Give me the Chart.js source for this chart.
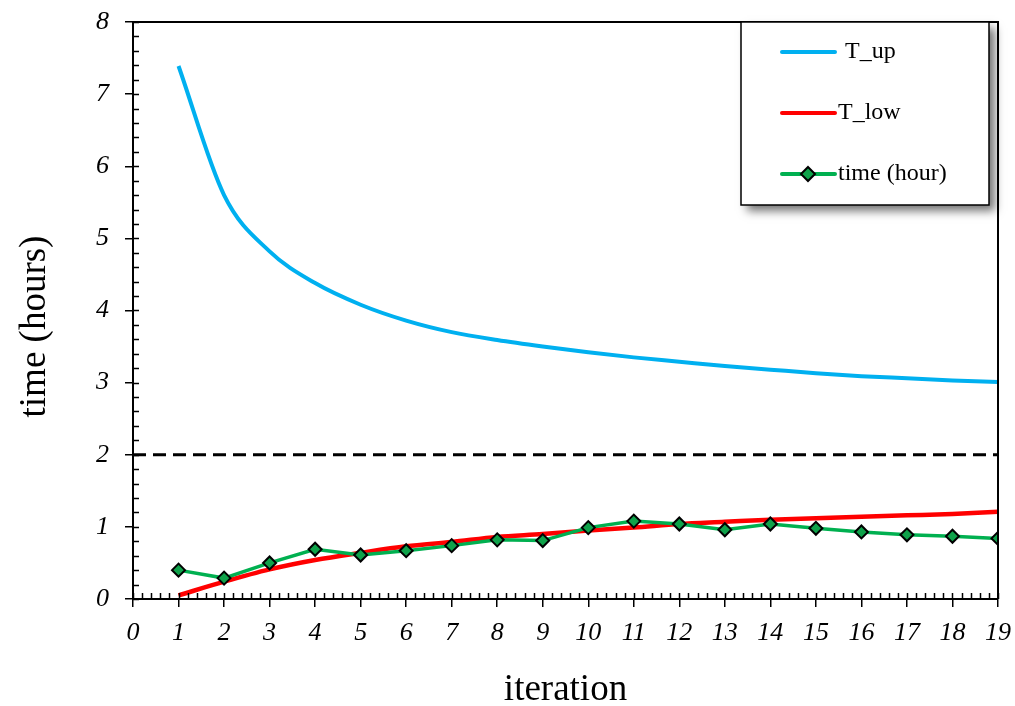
<!DOCTYPE html>
<html><head><meta charset="utf-8">
<script src="https://cdn.jsdelivr.net/npm/chart.js@4.4.1/dist/chart.umd.min.js"></script>
<style>html,body{margin:0;padding:0;background:#fff}#wrap{width:1015px;height:706px;position:relative}</style>
</head><body><div id="wrap"><canvas id="c" width="1015" height="706"></canvas></div>
<script>
const iterations = [1,2,3,4,5,6,7,8,9,10,11,12,13,14,15,16,17,18,19];
const tUp = [7.39,5.60,4.82,4.38,4.08,3.86,3.70,3.59,3.50,3.42,3.35,3.29,3.23,3.18,3.13,3.09,3.06,3.03,3.01];
const tLow = [0.05,0.24,0.41,0.54,0.64,0.73,0.79,0.86,0.90,0.95,0.99,1.04,1.07,1.10,1.12,1.14,1.16,1.18,1.21];
const timeHour = [0.40,0.29,0.50,0.69,0.61,0.67,0.74,0.82,0.81,0.99,1.08,1.04,0.96,1.04,0.98,0.93,0.89,0.87,0.84];
const limitX = [0,19];
const limitY = [2,2];
const xTickLabels = ['0','1','2','3','4','5','6','7','8','9','10','11','12','13','14','15','16','17','18','19'];
const yTickLabels = ['0','1','2','3','4','5','6','7','8'];

const SERIF = '"Liberation Serif","Times New Roman",serif';
const pts = (xs, ys) => xs.map((x,i)=>({x:x, y:ys[i]}));

const frame = {
  id:'frame',
  beforeDraw(chart){
    const ys = chart.scales.y;
    if (!ys._shifted){
      const orig = ys.drawTitle;
      ys.drawTitle = function(){ const c=this.ctx; c.save(); c.translate(0,16); orig.call(this); c.restore(); };
      ys._shifted = true;
    }
  },
  afterDraw(chart){
    const ctx = chart.ctx, a = chart.chartArea, xs = chart.scales.x, ys = chart.scales.y;
    ctx.save();
    ctx.strokeStyle = '#000'; ctx.lineWidth = 1.5;
    ctx.beginPath();
    for (let v = 0; v <= 19.0001; v += 0.2){
      const px = Math.round(xs.getPixelForValue(v)) + 0.5;
      ctx.moveTo(px, a.bottom); ctx.lineTo(px, a.bottom - 6);
    }
    for (let v = 0; v <= 8.0001; v += 0.2){
      const py = Math.round(ys.getPixelForValue(v)) + 0.5;
      ctx.moveTo(a.left, py); ctx.lineTo(a.left + 6, py);
    }
    ctx.stroke();
    ctx.lineWidth = 2;
    ctx.beginPath();
    ctx.moveTo(a.left, a.top); ctx.lineTo(a.right, a.top); ctx.lineTo(a.right, a.bottom);
    ctx.stroke();
    const bx = 741, by = 22, bw = 248, bh = 183;
    ctx.shadowColor = 'rgba(0,0,0,0.55)'; ctx.shadowBlur = 9; ctx.shadowOffsetX = 6; ctx.shadowOffsetY = 6;
    ctx.fillStyle = '#fff'; ctx.fillRect(bx, by, bw, bh);
    ctx.shadowColor = 'rgba(0,0,0,0)'; ctx.shadowBlur = 0; ctx.shadowOffsetX = 0; ctx.shadowOffsetY = 0;
    ctx.lineWidth = 1.5; ctx.strokeStyle = '#000'; ctx.strokeRect(bx, by, bw, bh);
    const rows = [52, 113, 174];
    const textX = [845, 838, 838];
    const items = chart.data.datasets.filter(ds => ds.legendRank !== undefined).sort((p,q)=>p.legendRank-q.legendRank);
    items.forEach((ds, r) => {
      const y = rows[r];
      ctx.strokeStyle = ds.borderColor; ctx.lineWidth = 4; ctx.lineCap = 'round';
      ctx.beginPath(); ctx.moveTo(782, y); ctx.lineTo(835, y); ctx.stroke();
      if (ds.pointRadius > 0){
        const s = 7;
        ctx.beginPath(); ctx.moveTo(808, y - s); ctx.lineTo(808 + s, y); ctx.lineTo(808, y + s); ctx.lineTo(808 - s, y); ctx.closePath();
        ctx.fillStyle = ds.pointBackgroundColor; ctx.fill();
        ctx.lineWidth = 2; ctx.strokeStyle = '#000'; ctx.stroke();
      }
      ctx.fillStyle = '#000'; ctx.font = '24px ' + SERIF; ctx.textBaseline = 'middle'; ctx.textAlign = 'left';
      ctx.fillText(ds.label, textX[r], y);
    });
    ctx.restore();
  }
};

new Chart(document.getElementById('c'), {
  type: 'line',
  data: {
    datasets: [
      { label:'time (hour)', legendRank:2, data: pts(iterations, timeHour), borderColor:'#00B050', borderWidth:3.5,
        pointStyle:'rectRot', pointRadius:6.5, pointBackgroundColor:'#0FA24A', pointBorderColor:'#000', pointBorderWidth:2,
        tension:0, order:0 },
      { label:'T_low', legendRank:1, data: pts(iterations, tLow), borderColor:'#FF0000', borderWidth:4.5,
        pointRadius:0, cubicInterpolationMode:'monotone', order:1 },
      { label:'T_up', legendRank:0, data: pts(iterations, tUp), borderColor:'#00B0F0', borderWidth:4,
        pointRadius:0, cubicInterpolationMode:'monotone', order:2 },
      { label:'limit', data: pts(limitX, limitY), borderColor:'#000', borderWidth:3,
        borderDash:[13,7], pointRadius:0, order:3 }
    ]
  },
  options: {
    responsive:false, animation:false, devicePixelRatio:1,
    layout:{ padding:{ left:0, right:17, top:22, bottom:0 } },
    plugins:{ legend:{display:false}, tooltip:{enabled:false} },
    scales:{
      x:{ type:'linear', min:0, max:19,
        afterFit(s){ s.height = 107; s.paddingLeft = 0; s.paddingRight = 0; },
        afterBuildTicks(s){ s.ticks = xTickLabels.map(t=>({value:Number(t)})); },
        ticks:{ autoSkip:false, maxRotation:0, padding:11, color:'#000',
          font:{family:SERIF, size:26, style:'italic'}, callback:(v,i)=>xTickLabels[i] },
        grid:{ drawOnChartArea:false, drawTicks:true, tickLength:8, color:'#000', lineWidth:1.5 },
        border:{ display:true, color:'#000', width:2 },
        title:{ display:true, text:'iteration', color:'#000', font:{family:SERIF, size:37, lineHeight:1}, padding:{top:0,bottom:-3} }
      },
      y:{ type:'linear', min:0, max:8,
        afterFit(s){ s.width = 133; s.paddingTop = 0; s.paddingBottom = 0; },
        afterBuildTicks(s){ s.ticks = yTickLabels.map(t=>({value:Number(t)})); },
        ticks:{ padding:16, color:'#000', font:{family:SERIF, size:26, style:'italic'}, callback:(v,i)=>yTickLabels[i] },
        grid:{ drawOnChartArea:false, drawTicks:true, tickLength:8, color:'#000', lineWidth:1.5 },
        border:{ display:true, color:'#000', width:2 },
        title:{ display:true, text:'time (hours)', color:'#000', font:{family:SERIF, size:37, lineHeight:1}, padding:{top:17,bottom:0} }
      }
    }
  },
  plugins:[frame]
});
</script></body></html>
